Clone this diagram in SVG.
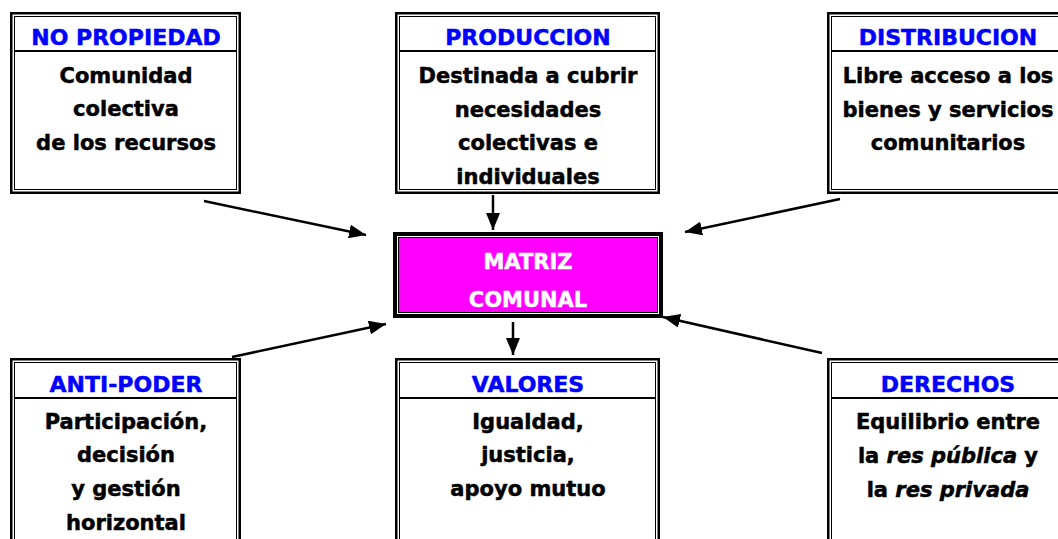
<svg xmlns="http://www.w3.org/2000/svg" width="1058" height="539" viewBox="0 0 1058 539">
<style>
.bg{fill:#fff}
.ob{fill:none;stroke:#000;stroke-width:2.5}
.ib{fill:none;stroke:#000;stroke-width:1}
.sep{stroke:#000;stroke-width:2}
.h{font-family:"DejaVu Sans",Verdana,sans-serif;font-weight:bold;font-size:22px;fill:#0000ff;stroke:#0000ff;stroke-width:0.5;text-anchor:middle}
.t{font-family:"DejaVu Sans",Verdana,sans-serif;font-weight:bold;font-size:21px;fill:#000;stroke:#000;stroke-width:0.5;text-anchor:middle}
.w{font-family:"DejaVu Sans",Verdana,sans-serif;font-weight:bold;font-size:21px;fill:#fff;stroke:#fff;stroke-width:0.5;text-anchor:middle}
.i{font-style:italic}
.c{stroke:#000;stroke-width:2.5;fill:none;marker-end:url(#ah)}
</style>
<defs>
<marker id="ah" viewBox="0 0 17 14" refX="17" refY="7" markerWidth="17" markerHeight="14" markerUnits="userSpaceOnUse" orient="auto">
<path d="M0,0 L17,7 L0,14 Z" fill="#000"/>
</marker>
</defs>
<rect class="bg" x="0" y="0" width="1058" height="539"/>

<g id="no-propiedad">
<rect class="ob" x="11.25" y="13.25" width="228.5" height="179.5"/>
<rect class="ib" x="14.5" y="16.5" width="222" height="173"/>
<line class="sep" x1="15" y1="51" x2="236" y2="51"/>
<text class="h" x="126" y="45">NO PROPIEDAD</text>
<text class="t" x="126" y="83">Comunidad</text>
<text class="t" x="126" y="116">colectiva</text>
<text class="t" x="126" y="150">de los recursos</text>
</g>

<g id="produccion">
<rect class="ob" x="396.25" y="13.25" width="262.5" height="179.5"/>
<rect class="ib" x="399.5" y="16.5" width="256" height="173"/>
<line class="sep" x1="400" y1="51" x2="655" y2="51"/>
<text class="h" x="528" y="45">PRODUCCION</text>
<text class="t" x="528" y="83">Destinada a cubrir</text>
<text class="t" x="528" y="117">necesidades</text>
<text class="t" x="528" y="150">colectivas e</text>
<text class="t" x="528" y="184">individuales</text>
</g>

<g id="distribucion">
<rect class="ob" x="828.25" y="13.25" width="241" height="179.5"/>
<rect class="ib" x="831.5" y="16.5" width="234" height="173"/>
<line class="sep" x1="832" y1="51" x2="1066" y2="51"/>
<text class="h" x="948" y="45">DISTRIBUCION</text>
<text class="t" x="948" y="83">Libre acceso a los</text>
<text class="t" x="948" y="117">bienes y servicios</text>
<text class="t" x="948" y="150">comunitarios</text>
</g>

<g id="matriz">
<rect x="393" y="232" width="270" height="86" fill="#000"/>
<rect x="397" y="236" width="262" height="78" fill="#fff"/>
<rect x="398" y="237" width="260" height="76" fill="#000"/>
<rect x="399" y="238" width="258" height="74" fill="#ff00ff"/>
<text class="w" x="528" y="269">MATRIZ</text>
<text class="w" x="528" y="307">COMUNAL</text>
</g>

<g id="anti-poder">
<rect class="ob" x="11.25" y="359.25" width="228.5" height="200"/>
<rect class="ib" x="14.5" y="362.5" width="222" height="200"/>
<line class="sep" x1="15" y1="398" x2="236" y2="398"/>
<text class="h" x="126" y="392">ANTI-PODER</text>
<text class="t" x="126" y="429">Participación,</text>
<text class="t" x="126" y="462">decisión</text>
<text class="t" x="126" y="496">y gestión</text>
<text class="t" x="126" y="530">horizontal</text>
</g>

<g id="valores">
<rect class="ob" x="396.25" y="359.25" width="262.5" height="200"/>
<rect class="ib" x="399.5" y="362.5" width="256" height="200"/>
<line class="sep" x1="400" y1="398" x2="655" y2="398"/>
<text class="h" x="528" y="392">VALORES</text>
<text class="t" x="528" y="429">Igualdad,</text>
<text class="t" x="528" y="462">justicia,</text>
<text class="t" x="528" y="496">apoyo mutuo</text>
</g>

<g id="derechos">
<rect class="ob" x="828.25" y="359.25" width="241" height="200"/>
<rect class="ib" x="831.5" y="362.5" width="234" height="200"/>
<line class="sep" x1="832" y1="398" x2="1066" y2="398"/>
<text class="h" x="948" y="392">DERECHOS</text>
<text class="t" x="948" y="429">Equilibrio entre</text>
<text class="t" x="948" y="463">la <tspan class="i">res pública</tspan> y</text>
<text class="t" x="948" y="497">la <tspan class="i">res privada</tspan></text>
</g>

<g id="connectors">
<line class="c" x1="204" y1="201" x2="366" y2="235"/>
<line class="c" x1="840" y1="199" x2="685" y2="232"/>
<line class="c" x1="232" y1="357" x2="386" y2="324"/>
<line class="c" x1="822" y1="353" x2="663" y2="317"/>
<line class="c" x1="493" y1="195" x2="493" y2="230"/>
<line class="c" x1="513" y1="322" x2="513" y2="355"/>
</g>
</svg>
